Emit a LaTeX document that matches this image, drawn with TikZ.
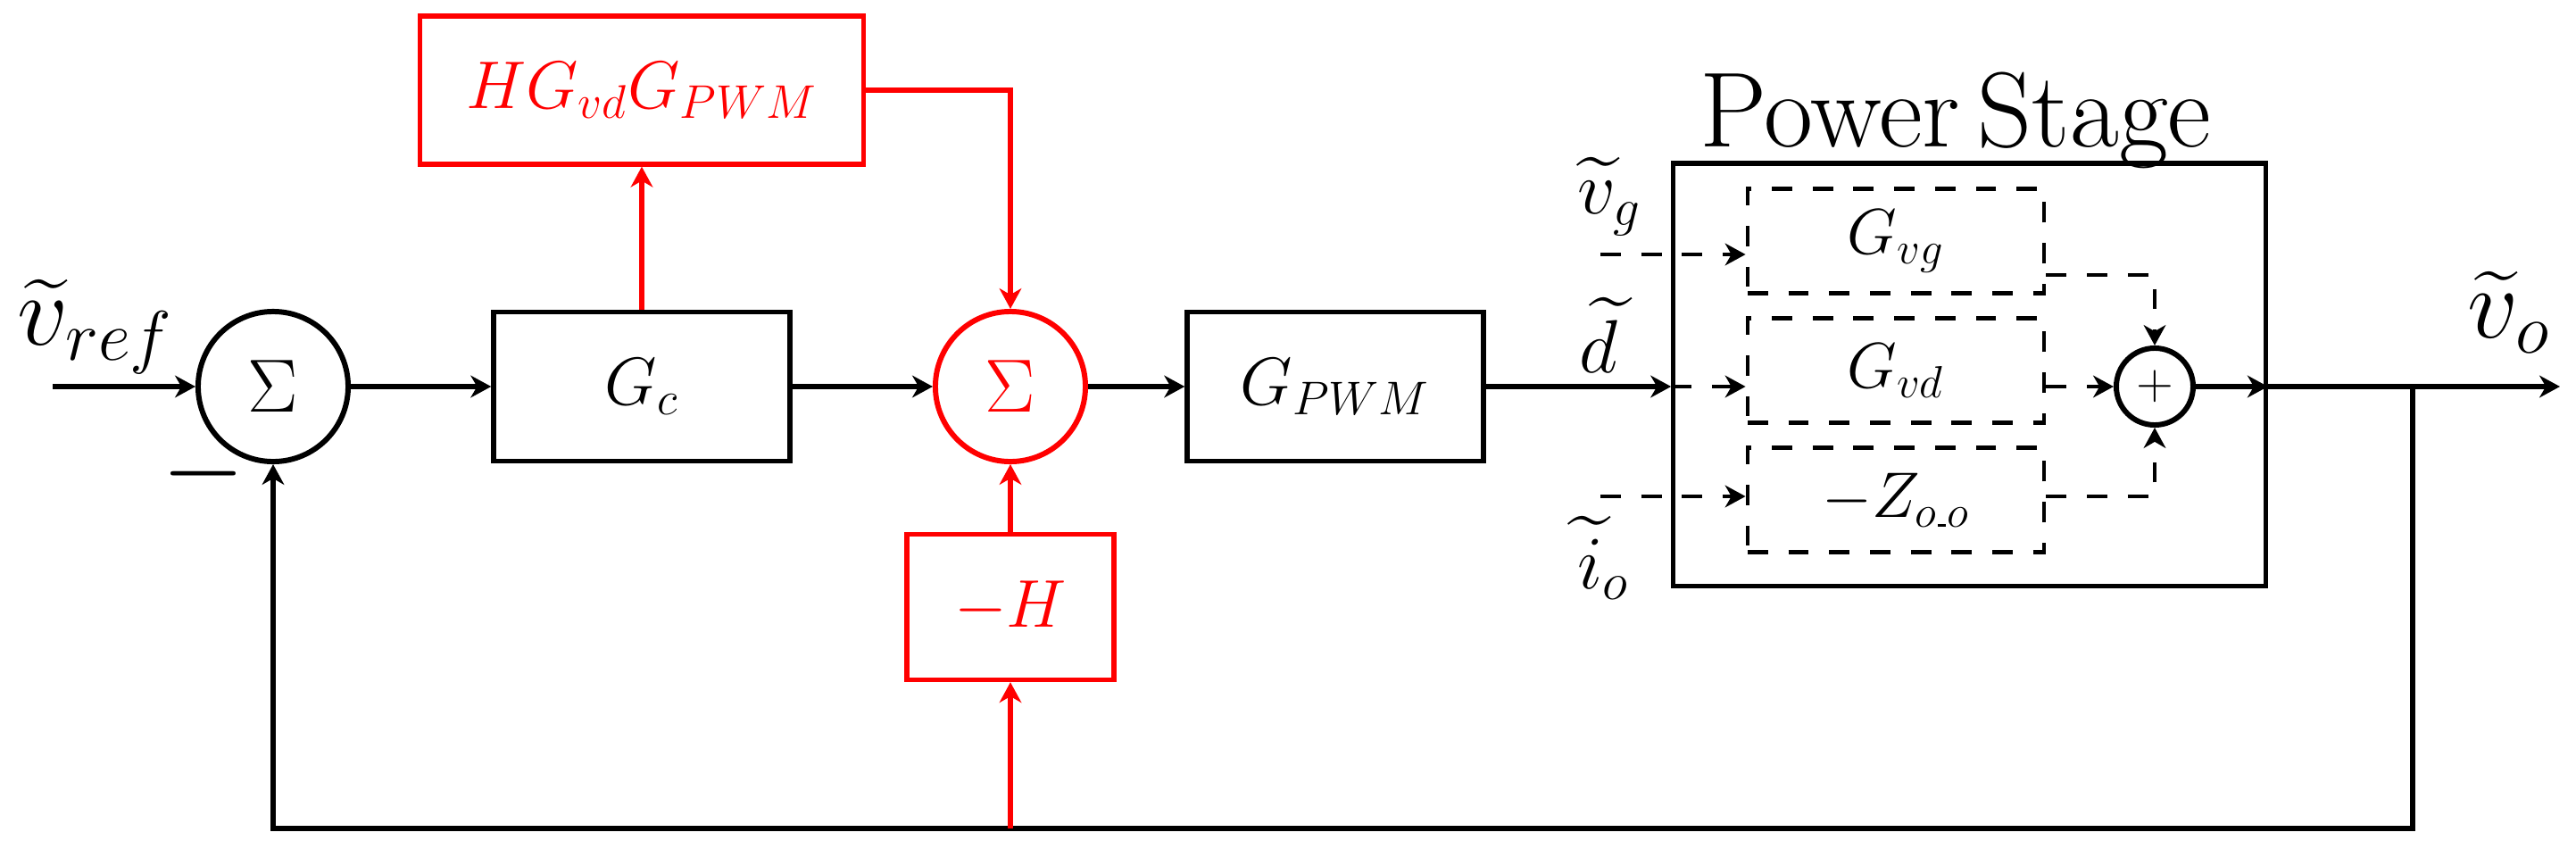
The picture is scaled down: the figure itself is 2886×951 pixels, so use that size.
\RequirePackage{fix-cm}
\documentclass[tikz,border=0pt]{standalone}
\usepackage{amsmath}
\usetikzlibrary{arrows.meta,calc}
\begin{document}
\begin{tikzpicture}[x=0.01cm,y=-0.01cm,
  line width=1.5pt,
  >={Stealth[length=6.5pt,width=7pt,inset=2pt]},
  fnorm/.style={font=\fontsize{21.5pt}{25pt}\selectfont},
  blk/.style={draw,rectangle,inner sep=0pt,minimum width=3.32cm,minimum height=1.67cm,fnorm},
  sumnode/.style={draw,circle,line width=1.7pt,inner sep=0pt,minimum size=1.68cm,font=\fontsize{24pt}{28pt}\selectfont},
  dblk/.style={draw,rectangle,line width=1.3pt,dash pattern=on 6.5pt off 6.5pt,inner sep=0pt,minimum width=3.32cm,minimum height=1.17cm,font=\fontsize{20.5pt}{24pt}\selectfont},
  dline/.style={line width=1.3pt,dash pattern=on 6.5pt off 6.5pt},
  rline/.style={draw=red,color=red},
  lbl/.style={inner sep=0pt,font=\fontsize{24pt}{28pt}\selectfont},
  biglbl/.style={inner sep=0pt,font=\fontsize{32pt}{38pt}\selectfont}
]
\useasboundingbox (0,0) rectangle (2886,951);

% main path nodes
\coordinate (in) at (59,433);
\node[sumnode] (s1) at (306,433) {$\Sigma$};
\node[biglbl] (vref) at (107,366) {$\widetilde{v}_{ref}$};
\node[inner sep=0pt,font=\fontsize{34pt}{40pt}\selectfont] (minus) at (228,531) {$-$};
\node[blk] (Gc) at (719,433) {$G_c$};
\node[blk,red,minimum width=4.97cm,minimum height=1.66cm] (HG) at (719,101) {$HG_{vd}G_{PWM}$};
\node[sumnode,red] (s2) at (1132,433) {$\Sigma$};
\node[blk,red,minimum width=2.32cm,minimum height=1.63cm] (mH) at (1132,680) {$-H$};
\node[blk] (GPWM) at (1496,433) {$G_{PWM}$};

% power stage
\node[draw,rectangle,inner sep=0pt,minimum width=6.63cm,minimum height=4.73cm] (PS) at (2206.5,419.5) {};
\node[anchor=base,inner sep=0pt,font=\fontsize{34pt}{40pt}\selectfont] (PSt) at (2191,164) {Power\,Stage};
\node[dblk] (Gvg) at (2124,270) {$G_{vg}$};
\node[dblk] (Gvd) at (2124,415) {$G_{vd}$};
\node[dblk] (Zoo) at (2124,560) {$-Z_{o\kern0.4pt\rule{2.6pt}{1pt}\kern0.4pt o}$};
\node[draw,circle,line width=1.7pt,inner sep=0pt,minimum size=0.86cm,font=\fontsize{15.6pt}{18pt}\selectfont] (plus) at (2414,433) {$+$};

\node[lbl] (vg) at (1803,220) {$\widetilde{v}_g$};
\node[lbl] (dl) at (1791,375) {$\widetilde{d}$};
\node[lbl] (io) at (1796,625) {$\widetilde{i}_o$};
\node[biglbl] (vo) at (2811,350) {$\widetilde{v}_o$};

\coordinate (vgs) at (1793,285);
\coordinate (ios) at (1793,556);
\coordinate (vgo) at (2414,308);
\coordinate (j) at (2703,433);
\coordinate (fb) at (2703,928);
\coordinate (out) at (2868,433);

% connectors
\draw[->] (in) -- (s1.west);
\draw[->] (s1.east) -- (Gc.west);
\draw[->] (Gc.east) -- (s2.west);
\draw[->] (s2.east) -- (GPWM.west);
\draw[->] (GPWM.east) -- (GPWM.east -| PS.west);
\draw[->,dline] (GPWM.east -| PS.west) -- (Gvd.west |- GPWM.east);
\draw[->,dline] (vgs) -- (Gvg.west |- vgs);
\draw[->,dline] (ios) -- (Zoo.west |- ios);
\draw[->,dline] (Gvg.east |- vgo) -- (vgo) -- (plus.north);
\draw[->,dline] (Gvd.east |- plus.west) -- (plus.west);
\draw[->,dline] (Zoo.east |- ios) -- (plus.south |- ios) -- (plus.south);
\draw[->] (plus.east) -- (plus.east -| PS.east);
\draw[->] (plus.east -| PS.east) -- (out);
\draw[->] (j) -- (fb) -| (s1.south);

\draw[->,rline] (Gc.north) -- (HG.south);
\draw[->,rline] (HG.east) -| (s2.north);
\draw[->,rline] (s2.south |- fb) -- (mH.south);
\draw[->,rline] (mH.north) -- (s2.south);
\end{tikzpicture}
\end{document}
